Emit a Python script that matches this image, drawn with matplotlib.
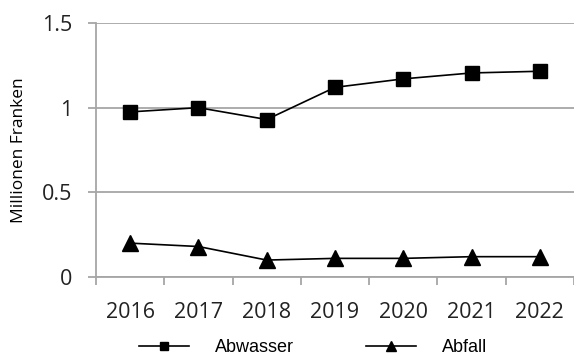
import numpy as np
import matplotlib
matplotlib.use("Agg")
import matplotlib.pyplot as plt
from matplotlib.ticker import FixedLocator, FuncFormatter

years = ["2016", "2017", "2018", "2019", "2020", "2021", "2022"]
abwasser = [0.975, 1.0, 0.93, 1.12, 1.17, 1.205, 1.215]
abfall = [0.20, 0.18, 0.10, 0.11, 0.11, 0.12, 0.12]
yticks = [0, 0.5, 1, 1.5]

grey = "#a6a6a6"
fig = plt.figure(figsize=(5.74, 3.58), dpi=100)
ax = fig.add_axes([96 / 574, 1 - 277 / 358, 478 / 574, 254 / 358])

x = np.arange(len(years))
ax.plot(x, abwasser, "-s", color="black", lw=1.2, ms=10, label="Abwasser")
ax.plot(x, abfall, "-^", color="black", lw=1.2, ms=11, label="Abfall")

ax.set_xlim(-0.5, len(years) - 0.5)
ax.set_ylim(0, 1.5)
ax.set_yticks(yticks)
ax.yaxis.set_major_formatter(FuncFormatter(lambda v, _: f"{v:g}"))
ax.grid(axis="y", color=grey, lw=1.3)
ax.set_axisbelow(True)

ax.set_xticks(x)
ax.set_xticklabels(years)
ax.xaxis.set_minor_locator(FixedLocator(np.arange(-0.5, len(years), 1.0)))
ax.tick_params(axis="x", which="major", length=0, pad=18, labelsize=15.5)
ax.tick_params(axis="x", which="minor", length=6, width=1.3, color=grey)
ax.tick_params(axis="y", length=6, width=1.3, color=grey, pad=11, labelsize=15.5)
for lab in ax.get_xticklabels() + ax.get_yticklabels():
    lab.set_fontfamily("Open Sans")
    lab.set_color("#222222")

for s in ["top", "right"]:
    ax.spines[s].set_visible(False)
ax.spines["left"].set_color(grey)
ax.spines["bottom"].set_color(grey)
ax.spines["left"].set_linewidth(1.3)
ax.spines["bottom"].set_linewidth(1.3)

ax.set_ylabel("Millionen Franken", family="Open Sans", fontsize=12.5, labelpad=11)

fig.legend(loc="center", bbox_to_anchor=(0.545, 1 - 348 / 358), ncol=2, frameon=False,
           handlelength=2.8, handletextpad=1.4, columnspacing=4.0, markerscale=0.6,
           borderpad=0.2, prop={"family": "Liberation Sans", "size": 13})

fig.savefig("out.png", dpi=100)
